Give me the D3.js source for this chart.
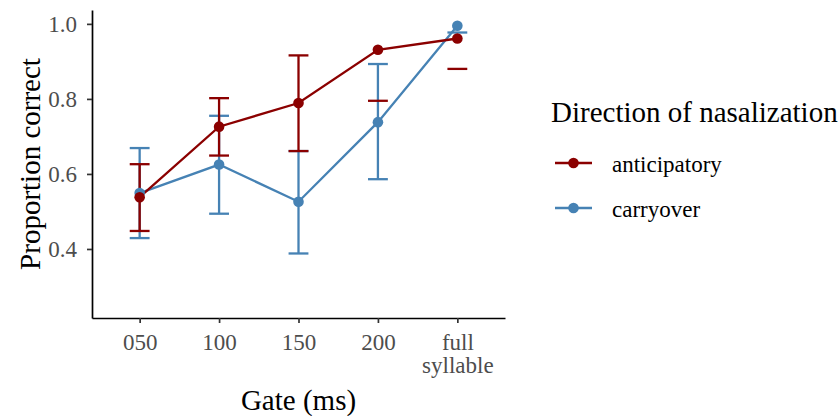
<!DOCTYPE html>
<html>
<head>
<meta charset="utf-8">
<script src="https://cdn.jsdelivr.net/npm/d3@7"></script>
<style>
  body { margin: 0; background: #fff; }
  svg { display: block; font-family: "Liberation Serif", "Times New Roman", serif; }
</style>
</head>
<body>
<div id="chart"></div>
<script>
// Proportion correct by gate, per direction of nasalization (mean + error bars)
const gates = ["050", "100", "150", "200", "full\nsyllable"];
const seriesNames = ["anticipatory", "carryover"];
const seriesColors = ["#8B0000", "#4682B4"];

const anticipatoryMean  = [0.538, 0.726, 0.789, 0.931, 0.961];
const anticipatoryLower = [0.448, 0.649, 0.661, 0.795, 0.880];
const anticipatoryUpper = [0.626, 0.802, 0.916, null, null];

const carryoverMean  = [0.549, 0.625, 0.526, 0.738, 0.995];
const carryoverLower = [0.429, 0.494, 0.388, 0.586, 0.977];
const carryoverUpper = [0.669, 0.755, 0.661, 0.893, null];

const yTicks = [0.4, 0.6, 0.8, 1.0];

function build(name, color, mean, lo, hi) {
  return {
    name, color,
    values: gates.map((g, i) => ({ gate: g, mean: mean[i], lo: lo[i], hi: hi[i] }))
  };
}
const series = [
  build(seriesNames[0], seriesColors[0], anticipatoryMean, anticipatoryLower, anticipatoryUpper),
  build(seriesNames[1], seriesColors[1], carryoverMean, carryoverLower, carryoverUpper)
];

const W = 839, H = 416;
const panel = { left: 92, right: 505, top: 10, bottom: 318 };
const lw = 2.3;

const svg = d3.select("#chart").append("svg")
  .attr("width", W).attr("height", H);
svg.append("rect").attr("width", W).attr("height", H).attr("fill", "#fff");

const x = d3.scalePoint()
  .domain(gates)
  .range([panel.left, panel.right])
  .padding(0.6);

const y = d3.scaleLinear()
  .domain([0.216, 1.037])
  .range([panel.bottom, panel.top]);

const capHalf = x.step() * 0.125;

// draw carryover underneath, anticipatory on top
const drawOrder = [series[1], series[0]];

// error bars
drawOrder.forEach(s => {
  const g = svg.append("g").attr("stroke", s.color).attr("stroke-width", lw).attr("fill", "none");
  s.values.forEach(d => {
    const cx = x(d.gate);
    if (d.lo != null && d.hi != null) {
      g.append("line").attr("x1", cx).attr("x2", cx).attr("y1", y(d.lo)).attr("y2", y(d.hi));
    }
    [d.lo, d.hi].forEach(v => {
      if (v == null) return;
      g.append("line")
        .attr("x1", cx - capHalf).attr("x2", cx + capHalf)
        .attr("y1", y(v)).attr("y2", y(v));
    });
  });
});

// lines
const line = d3.line().x(d => x(d.gate)).y(d => y(d.mean));
drawOrder.forEach(s => {
  svg.append("path")
    .datum(s.values)
    .attr("d", line)
    .attr("fill", "none")
    .attr("stroke", s.color)
    .attr("stroke-width", lw);
});

// points
drawOrder.forEach(s => {
  svg.append("g").selectAll("circle")
    .data(s.values)
    .enter().append("circle")
    .attr("cx", d => x(d.gate))
    .attr("cy", d => y(d.mean))
    .attr("r", 5.3)
    .attr("fill", s.color);
});

// axes
const xAxis = svg.append("g")
  .attr("transform", `translate(0,${panel.bottom})`)
  .call(d3.axisBottom(x).tickSize(5).tickSizeOuter(0));
xAxis.select(".domain").attr("stroke", "#000").attr("stroke-width", 1.7);
xAxis.selectAll(".tick line").attr("stroke", "#333").attr("stroke-width", 1.7);
xAxis.selectAll(".tick text").each(function(d) {
  const t = d3.select(this).text(null)
    .attr("y", 32).attr("dy", null)
    .style("font-size", "23px")
    .style("fill", "#4D4D4D")
    .style("font-family", "'Liberation Serif', serif");
  d.split("\n").forEach((part, i) => {
    t.append("tspan").attr("x", 0).attr("dy", i === 0 ? 0 : 23).text(part);
  });
});

const yAxis = svg.append("g")
  .attr("transform", `translate(${panel.left},0)`)
  .call(d3.axisLeft(y).tickValues(yTicks).tickFormat(d3.format(".1f")).tickSize(5).tickSizeOuter(0));
yAxis.select(".domain").attr("stroke", "#000").attr("stroke-width", 1.7);
yAxis.selectAll(".tick line").attr("stroke", "#333").attr("stroke-width", 1.7);
yAxis.selectAll(".tick text")
  .attr("x", -15)
  .style("font-size", "23px")
  .style("fill", "#4D4D4D")
  .style("font-family", "'Liberation Serif', serif");

// axis titles
svg.append("text")
  .attr("x", (panel.left + panel.right) / 2).attr("y", 410)
  .attr("text-anchor", "middle")
  .style("font-size", "29px")
  .text("Gate (ms)");

svg.append("text")
  .attr("transform", `translate(40,${(panel.top + panel.bottom) / 2}) rotate(-90)`)
  .attr("text-anchor", "middle")
  .style("font-size", "29px")
  .text("Proportion correct");

// legend
const legend = svg.append("g");
legend.append("text")
  .attr("x", 551).attr("y", 122)
  .style("font-size", "29px")
  .text("Direction of nasalization");

const keyY = [163, 208];
series.forEach((s, i) => {
  const k = legend.append("g").attr("transform", `translate(0,${keyY[i]})`);
  k.append("line").attr("x1", 555).attr("x2", 592)
    .attr("stroke", s.color).attr("stroke-width", lw);
  k.append("circle").attr("cx", 573.5).attr("r", 5.3).attr("fill", s.color);
  k.append("text").attr("x", 612).attr("y", 8.5)
    .style("font-size", "23px")
    .text(s.name);
});
</script>
</body>
</html>
